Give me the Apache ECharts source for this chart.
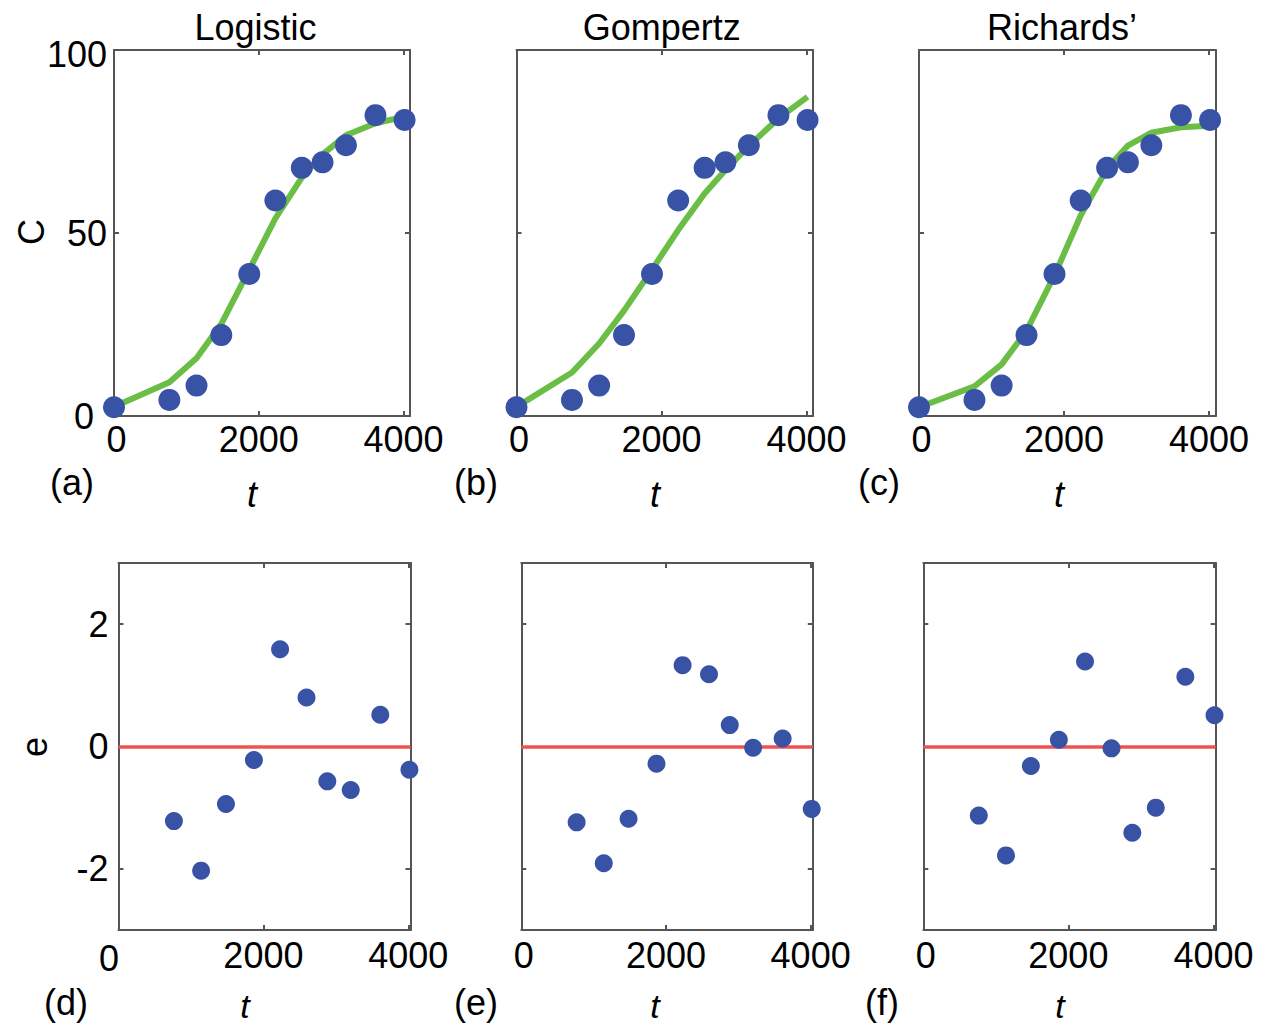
<!DOCTYPE html>
<html>
<head>
<meta charset="utf-8">
<script src="https://cdn.jsdelivr.net/npm/echarts@6/dist/echarts.min.js"></script>
<style>
html,body{margin:0;padding:0;background:#fff;}
#chart{width:1263px;height:1028px;}
</style>
</head>
<body>
<div id="chart"></div>
<script>
// ---- data ----
const t = [0, 765, 1140, 1483, 1869, 2230, 2595, 2882, 3205, 3613, 4015];
const observed = [2.4, 4.4, 8.3, 22.1, 38.8, 58.9, 67.8, 69.3, 74.0, 82.2, 80.9];
const fitLogistic = [2.5, 9.2, 15.8, 25.2, 40.0, 54.0, 65.1, 71.5, 76.7, 80.0, 81.8];
const fitGompertz = [2.5, 11.9, 19.8, 28.8, 40.0, 50.8, 60.8, 67.2, 73.8, 81.3, 87.2];
const fitRichards = [2.4, 8.1, 14.1, 23.3, 38.4, 54.8, 67.6, 73.9, 77.4, 78.9, 79.3];
const residualT = t.slice(1);
const resLogistic = [-1.22, -2.03, -0.94, -0.22, 1.59, 0.80, -0.57, -0.71, 0.52, -0.38];
const resGompertz = [-1.24, -1.91, -1.18, -0.28, 1.33, 1.18, 0.35, -0.02, 0.13, -1.02];
const resRichards = [-1.13, -1.78, -0.32, 0.11, 1.39, -0.03, -1.41, -1.00, 1.14, 0.51];
const modelNames = ['Logistic', 'Gompertz', 'Richards\u2019'];
const panelLetters = ['(a)', '(b)', '(c)', '(d)', '(e)', '(f)'];
const tTicks = [0, 2000, 4000];
const cTicks = [0, 50, 100];
const eTicks = [-2, 0, 2];

// ---- styling / layout ----
const FONT = "'Liberation Sans', Arial, Helvetica, sans-serif";
const FS = 36;
const AXIS_COLOR = '#555555';
const GREEN = '#6abd45';
const BLUE = '#3853a5';
const RED = '#ef5350';

const topGrids = [
  {left: 114, top: 50, width: 296, height: 366},
  {left: 516.5, top: 50, width: 296.5, height: 366},
  {left: 919, top: 50, width: 296.5, height: 366}
];
const bottomGrids = [
  {left: 118.5, top: 563, width: 292, height: 367},
  {left: 521.3, top: 563, width: 291.5, height: 367},
  {left: 923.3, top: 563, width: 292.3, height: 367}
];
const grids = topGrids.concat(bottomGrids);

const lineStyle = {color: AXIS_COLOR, width: 2};
const xAxes = [], yAxes = [], series = [];

grids.forEach((g, i) => {
  const isTop = i < 3;
  const xMax = isTop ? 4090 : 4030;
  const yMin = isTop ? 0 : -3, yMax = isTop ? 100 : 3;
  const yT = isTop ? cTicks : eTicks;
  const showY = (i === 0 || i === 3);
  // bottom x
  xAxes.push({
    gridIndex: i, type: 'value', min: 0, max: xMax, position: 'bottom',
    axisLine: {show: true, onZero: false, lineStyle},
    axisTick: {show: true, inside: true, length: 5, customValues: tTicks, lineStyle},
    axisLabel: {
      show: true, customValues: tTicks, margin: isTop ? 5 : 7,
      fontSize: FS, fontFamily: FONT, color: '#000',
      formatter: v => (v === 0) ? (i === 3 ? '{z|0}' : '{o|0}') : String(v),
      rich: {
        z: {fontSize: FS, fontFamily: FONT, color: '#000', padding: [3, 19, 0, 0]},
        o: {fontSize: FS, fontFamily: FONT, color: '#000', padding: [0, 0, 0, 5]}
      }
    },
    splitLine: {show: false}
  });
  // top x mirror
  xAxes.push({
    gridIndex: i, type: 'value', min: 0, max: xMax, position: 'top',
    axisLine: {show: true, onZero: false, lineStyle},
    axisTick: {show: true, inside: true, length: 5, customValues: tTicks, lineStyle},
    axisLabel: {show: false},
    splitLine: {show: false}
  });
  // left y
  yAxes.push({
    gridIndex: i, type: 'value', min: yMin, max: yMax, position: 'left',
    axisLine: {show: true, onZero: false, lineStyle},
    axisTick: {show: true, inside: true, length: 5, customValues: yT, lineStyle},
    axisLabel: {
      show: showY, customValues: yT, margin: i === 0 ? 7 : 10,
      fontSize: FS, fontFamily: FONT, color: '#000',
      formatter: v => (i === 0 && v === 0) ? '{z|0}' : (i === 0 && v === 100 ? '{h|100}' : String(v)),
      rich: {
        z: {fontSize: FS, fontFamily: FONT, color: '#000', padding: [0, 13, 0, 0]},
        h: {fontSize: FS, fontFamily: FONT, color: '#000', padding: [8, 0, 0, 0]}
      }
    },
    splitLine: {show: false}
  });
  // right y mirror
  yAxes.push({
    gridIndex: i, type: 'value', min: yMin, max: yMax, position: 'right',
    axisLine: {show: true, onZero: false, lineStyle},
    axisTick: {show: true, inside: true, length: 5, customValues: yT, lineStyle},
    axisLabel: {show: false},
    splitLine: {show: false}
  });
});

const fits = [fitLogistic, fitGompertz, fitRichards];
const residuals = [resLogistic, resGompertz, resRichards];

fits.forEach((fit, i) => {
  series.push({
    type: 'line', name: modelNames[i] + ' fit',
    xAxisIndex: i * 2, yAxisIndex: i * 2,
    data: t.map((x, k) => [x, fit[k]]),
    showSymbol: false, symbol: 'none',
    lineStyle: {color: GREEN, width: 6},
    z: 2, silent: true
  });
  series.push({
    type: 'scatter', name: 'observed',
    xAxisIndex: i * 2, yAxisIndex: i * 2,
    data: t.map((x, k) => [x, observed[k]]),
    symbolSize: 22, itemStyle: {color: BLUE, opacity: 1},
    z: 3
  });
});

residuals.forEach((res, i) => {
  const gi = i + 3;
  series.push({
    type: 'scatter', name: modelNames[i] + ' residual',
    xAxisIndex: gi * 2, yAxisIndex: gi * 2,
    data: residualT.map((x, k) => [x, res[k]]),
    symbolSize: 18, itemStyle: {color: BLUE, opacity: 1},
    z: 3,
    markLine: {
      silent: true, symbol: 'none', animation: false,
      label: {show: false},
      lineStyle: {color: RED, width: 3.5, type: 'solid'},
      data: [{yAxis: 0}],
      z: 2
    }
  });
});

function txt(text, x, y, opts) {
  opts = opts || {};
  const fs = opts.fontSize || FS;
  return {
    type: 'text', x: x, y: y, rotation: opts.rotation || 0, silent: true,
    style: {
      text: text, x: 0, y: 0,
      font: (opts.italic ? 'italic ' : '') + fs + 'px ' + FONT,
      fill: '#000',
      align: 'center', verticalAlign: 'middle',
      textAlign: 'center', textVerticalAlign: 'middle'
    }
  };
}

const titlePos = [[255.5, 27], [661.7, 27], [1062, 27]];
const letterPos = [[72, 482], [476, 482], [879, 482], [66, 1002], [476, 1002], [882, 1002]];
const tPos = [[252, 494], [655, 494], [1059, 494], [245, 1006], [655, 1006], [1060, 1006]];

const graphics = [];
modelNames.forEach((n, i) => graphics.push(txt(n, titlePos[i][0], titlePos[i][1])));
panelLetters.forEach((n, i) => graphics.push(txt(n, letterPos[i][0], letterPos[i][1])));
tPos.forEach((p, i) => graphics.push(txt('t', p[0], p[1], {italic: true, fontSize: i < 3 ? FS : 34})));
graphics.push(txt('C', 31, 232, {rotation: Math.PI / 2}));
graphics.push(txt('e', 34, 747, {rotation: Math.PI / 2}));

const chart = echarts.init(document.getElementById('chart'), null, {renderer: 'svg'});
chart.setOption({
  animation: false,
  backgroundColor: '#ffffff',
  grid: grids,
  xAxis: xAxes,
  yAxis: yAxes,
  series: series,
  graphic: {elements: graphics}
});
</script>
</body>
</html>
